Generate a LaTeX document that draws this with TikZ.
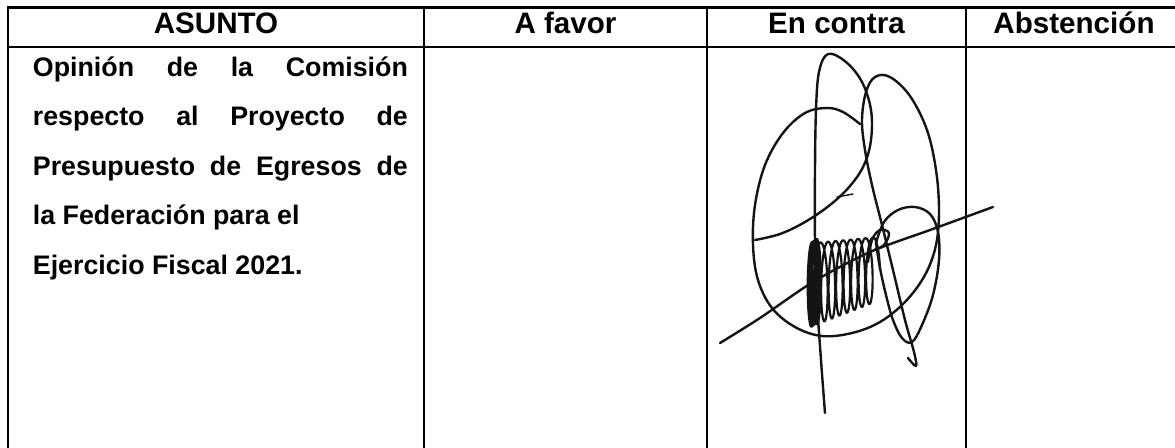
\documentclass[tikz,border=0pt]{standalone}
\usepackage{fontspec}
\setmainfont{Liberation Sans}
\begin{document}
\begin{tikzpicture}[x=0.5pt,y=-0.5pt,
  grid/.style={line width=1.3pt,black},
  hdr/.style={font=\fontsize{14.8pt}{17pt}\selectfont\bfseries,inner sep=0pt,anchor=base},
  body/.style={font=\fontsize{13.4pt}{16pt}\selectfont\bfseries,inner sep=0pt,anchor=base west},
  sig/.style={line width=1.2pt,black!92,line cap=round,line join=round}]
\useasboundingbox (0,0) rectangle (1175,447);
\clip (0,0) rectangle (1175,447);
\fill[white] (0,0) rectangle (1175,447);
% grid
\draw[grid] (7,7.5) -- (1190,7.5);
\draw[grid] (7,47) -- (1190,47);
\foreach \x in {8,424,707,966} \draw[grid] (\x,7) -- (\x,460);
% headers
\node[hdr] (h1) at (216,33) {ASUNTO};
\node[hdr] (h2) at (565.5,33) {A favor};
\node[hdr] (h3) at (836.5,33) {En contra};
\node[hdr] (h4) at (1074,33) {Abstención};
% body
\node[body] (l1) at (32.5,76) {\makebox[187.5pt][s]{Opinión de la Comisión}};
\node[body] (l2) at (32.5,125.5) {\makebox[187.5pt][s]{respecto al Proyecto de}};
\node[body] (l3) at (32.5,175) {\makebox[187.5pt][s]{Presupuesto de Egresos de}};
\node[body] (l4) at (32.5,224.5) {la Federación para el};
\node[body] (l5) at (32.5,274) {Ejercicio Fiscal 2021.};
% signature
\draw[sig] plot[smooth,tension=0.6] coordinates {(825,413) (821,360) (817,300) (815,240) (815,170) (816,110) (819,72) (828,54) (846,62) (862,82) (871,110) (871,140) (864,165) (850,186) (830,205) (805,222) (780,234) (755,240)};
\draw[sig] plot[smooth,tension=0.6] coordinates {(860,124) (843,112) (827,108) (805,113) (783,133) (765,165) (755,205) (753,245) (758,280) (772,308) (795,327) (822,336) (852,333) (880,322) (905,302) (925,275) (936,245) (939,210) (936,170) (927,130) (910,96) (890,77) (875,77) (866,92) (862,120) (865,150) (872,185) (882,225) (893,270) (905,320) (914,352) (916,366) (908,358)};
\draw[sig] plot[smooth,tension=0.5] coordinates {(720,343) (760,318) (813,282) (870,252) (930,230) (993,207)};
\draw[sig] plot[smooth,tension=0.6] coordinates {(876,243) (884,222) (898,210) (915,207) (930,214) (938,232) (939,260) (933,295) (922,325) (912,342) (902,338) (893,320) (886,295) (880,268) (876,243)};
\draw[sig] plot[smooth,tension=0.6] coordinates {(868,262) (872,240) (880,230) (889,233) (884,245) (874,250)};
\draw[sig,line width=1.1pt] plot[domain=0:1440,samples=240,variable=\t] ({811+\t/360*1.5+4*cos(\t)},{285-0.003*\t+42*sin(\t)});
\draw[sig,line width=1.1pt] plot[domain=0:2880,samples=480,variable=\t] ({815+\t/360*7.5+5*cos(\t)},{284-0.005*\t+(41-0.003*\t)*sin(\t)});
\draw[sig,line width=0.7pt] (837,197) -- (853,194);
\end{tikzpicture}
\end{document}
